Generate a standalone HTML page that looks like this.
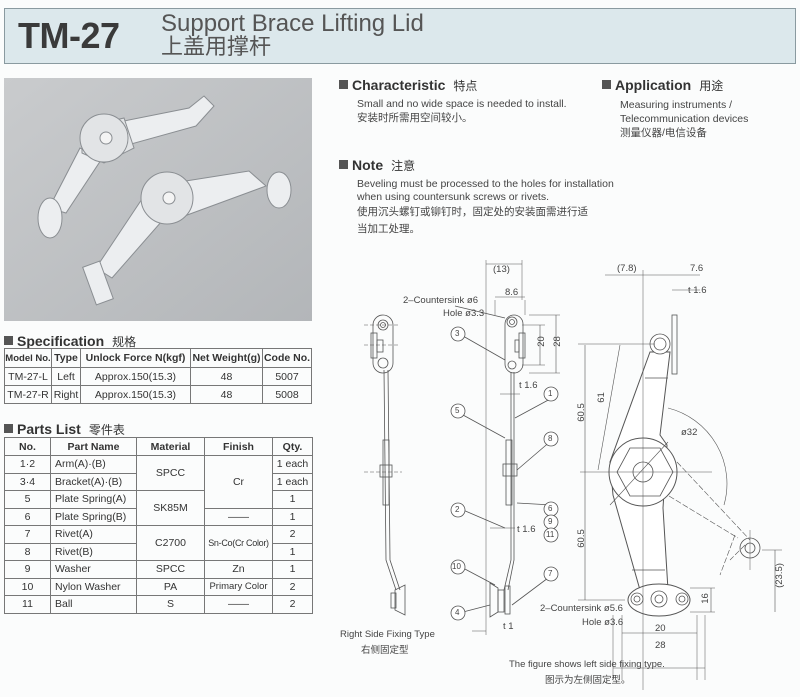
<!DOCTYPE html>
<html><head><meta charset="utf-8">
<style>
body{margin:0;width:800px;height:697px;background:#fbfcfc;position:relative;overflow:hidden;font-family:"Liberation Sans","Noto Sans CJK SC",sans-serif;color:#333}
.a{position:absolute;white-space:nowrap}
.hdr{left:4px;top:8px;width:792px;height:56px;background:#dce8ec;border:1px solid #8a9aa0;box-sizing:border-box}
h2{margin:0;font-size:14px;font-weight:bold;color:#333}
.sq{display:inline-block;width:9px;height:9px;background:#555;margin-right:4px;vertical-align:1px}
.cn{font-weight:normal;font-size:12px;margin-left:8px}
.t{font-size:10.5px;line-height:14px;color:#444}
table{position:absolute;border-collapse:collapse;font-size:10.5px;color:#333}
td{border:1px solid #777;text-align:center;padding:0;white-space:nowrap}
.l{text-align:left;padding-left:4px}
th{border:1px solid #777;font-weight:bold;padding:0}
</style></head><body>
<div class="a hdr"></div>
<div class="a" style="left:18px;top:15px;font-size:36px;font-weight:bold;color:#3a3a3a;letter-spacing:-0.5px">TM-27</div>
<div class="a" style="left:161px;top:12px;font-size:24px;color:#555;line-height:24px">Support Brace Lifting Lid</div>
<div class="a" style="left:161px;top:35px;font-size:22px;color:#555;line-height:24px">上盖用撑杆</div>

<svg class="a" style="left:4px;top:78px" width="308" height="243">
<defs><linearGradient id="g" x1="0" y1="0" x2="1" y2="1"><stop offset="0" stop-color="#c9cbcd"/><stop offset="1" stop-color="#b3b6b9"/></linearGradient></defs>
<rect width="308" height="243" fill="url(#g)"/>
<g fill="#eceef0" stroke="#8a8e92" stroke-width="1">
<path d="M85 50 L185 30 L200 18 L210 28 L192 48 L120 68 Z"/>
<path d="M76 70 L97 82 L62 135 L45 130 Z"/>
<ellipse cx="46" cy="140" rx="12" ry="20"/>
<path d="M78 50 L120 40 L130 70 L100 85 L78 75 Z" fill="#e2e4e6"/>
<circle cx="100" cy="60" r="24" fill="#e2e4e6"/>
<circle cx="102" cy="60" r="6" fill="#f4f4f4"/>
<path d="M150 108 L245 93 L262 108 L175 140 Z"/>
<ellipse cx="275" cy="112" rx="12" ry="18"/>
<path d="M140 118 L165 135 L108 200 L92 190 Z"/>
<circle cx="163" cy="120" r="26" fill="#e2e4e6"/>
<circle cx="165" cy="120" r="6" fill="#f4f4f4"/>
<rect x="85" y="185" width="18" height="40" transform="rotate(-20 94 205)"/>
</g>
</svg>

<div class="a" style="left:4px;top:333px"><h2><span class="sq"></span>Specification<span class="cn">规格</span></h2></div>
<table style="left:4px;top:348px;width:308px">
<tr style="height:19px"><th style="width:46px;font-size:9.5px">Model No.</th><th style="width:28px">Type</th><th style="width:109px">Unlock Force N(kgf)</th><th style="width:71px">Net Weight(g)</th><th>Code No.</th></tr>
<tr style="height:18px"><td>TM-27-L</td><td>Left</td><td>Approx.150(15.3)</td><td>48</td><td>5007</td></tr>
<tr style="height:18px"><td>TM-27-R</td><td>Right</td><td>Approx.150(15.3)</td><td>48</td><td>5008</td></tr>
</table>

<div class="a" style="left:4px;top:421px"><h2><span class="sq"></span>Parts List<span class="cn">零件表</span></h2></div>
<table style="left:4px;top:437px;width:309px;table-layout:fixed">
<tr style="height:18px"><th style="width:45px">No.</th><th style="width:85px">Part Name</th><th style="width:67px">Material</th><th style="width:67px">Finish</th><th>Qty.</th></tr>
<tr style="height:17.5px"><td>1·2</td><td class="l">Arm(A)·(B)</td><td rowspan="2">SPCC</td><td rowspan="3">Cr</td><td>1 each</td></tr>
<tr style="height:17.5px"><td>3·4</td><td class="l">Bracket(A)·(B)</td><td>1 each</td></tr>
<tr style="height:17.5px"><td>5</td><td class="l">Plate Spring(A)</td><td rowspan="2">SK85M</td><td>1</td></tr>
<tr style="height:17.5px"><td>6</td><td class="l">Plate Spring(B)</td><td>——</td><td>1</td></tr>
<tr style="height:17.5px"><td>7</td><td class="l">Rivet(A)</td><td rowspan="2">C2700</td><td rowspan="2" style="font-size:9px;letter-spacing:-0.3px">Sn-Co(Cr Color)</td><td>2</td></tr>
<tr style="height:17.5px"><td>8</td><td class="l">Rivet(B)</td><td>1</td></tr>
<tr style="height:17.5px"><td>9</td><td class="l">Washer</td><td>SPCC</td><td>Zn</td><td>1</td></tr>
<tr style="height:17.5px"><td>10</td><td class="l">Nylon Washer</td><td>PA</td><td style="font-size:9.5px">Primary Color</td><td>2</td></tr>
<tr style="height:17.5px"><td>11</td><td class="l">Ball</td><td>S</td><td>——</td><td>2</td></tr>
</table>

<div class="a" style="left:339px;top:77px"><h2><span class="sq"></span>Characteristic<span class="cn">特点</span></h2></div>
<div class="a t" style="left:357px;top:97px">Small and no wide space is needed to install.<br>安装时所需用空间较小。</div>
<div class="a" style="left:602px;top:77px"><h2><span class="sq"></span>Application<span class="cn">用途</span></h2></div>
<div class="a t" style="left:620px;top:98px">Measuring instruments /<br>Telecommunication devices<br>测量仪器/电信设备</div>
<div class="a" style="left:339px;top:157px"><h2><span class="sq"></span>Note<span class="cn">注意</span></h2></div>
<div class="a t" style="left:357px;top:178px;line-height:13px">Beveling must be processed to the holes for installation<br>when using countersunk screws or rivets.<br><span style="line-height:17px">使用沉头螺钉或铆钉时，固定处的安装面需进行适<br>当加工处理。</span></div>

<svg class="a" style="left:0;top:0" width="800" height="697" font-family="Liberation Sans, sans-serif" font-size="9" fill="none" stroke="#555" stroke-width="0.8">
<!-- right side view -->
<rect x="373" y="315" width="20" height="58" rx="10"/>
<circle cx="383" cy="325" r="5"/><circle cx="383" cy="325" r="2.5"/>
<circle cx="383" cy="363" r="5"/>
<rect x="371" y="333" width="6" height="25"/><rect x="377" y="340" width="6" height="12"/>
<path d="M384 370 L386 560 L396 590 M388 370 L390 560 L400 590"/>
<rect x="383" y="440" width="6" height="65"/><rect x="380" y="465" width="12" height="12"/>
<path d="M395 590 L405 585 L405 615 L395 610 Z"/><rect x="391" y="593" width="5" height="15"/>
<path d="M364 345 H400 M364 472 H402 M364 325 H400" stroke-dasharray="4 2" stroke-width="0.5"/>
<!-- middle view -->
<rect x="505" y="315" width="18" height="58" rx="9"/>
<circle cx="512" cy="322" r="5"/><circle cx="512" cy="322" r="2.5"/>
<circle cx="512" cy="365" r="4"/>
<rect x="519" y="333" width="6" height="25"/><rect x="515" y="340" width="4" height="12"/>
<path d="M511 372 L511 560 L504 590 M514 372 L514 560 L508 590"/>
<rect x="506" y="440" width="6" height="65"/><rect x="503" y="464" width="14" height="12"/>
<path d="M490 583 L498 588 L498 612 L490 617 Z"/><rect x="498" y="590" width="6" height="22"/><rect x="505" y="586" width="5" height="28"/>
<path d="M486 260 V635 M522 260 V300 M495 300 V315 M525 300 V315 M529 315 H560 M529 373 H560 M522 325 H545 M522 365 H545" stroke-width="0.5"/>
<path d="M486 264 H522 M495 297 H525 M540 325 V365 M556 315 V373 M500 394 H520 M490 528 H515 M472 631 H486" stroke-width="0.6"/>
<path d="M463 336 L505 360 M463 415 L505 438 M463 510 L505 528 M463 568 L495 585 M463 612 L490 605 M552 398 L515 418 M552 440 L517 470 M552 505 L517 503 M552 575 L512 605 M455 306 L505 318"/>
<g fill="#fff">
<circle cx="458" cy="334" r="7"/><circle cx="458" cy="411" r="7"/><circle cx="458" cy="510" r="7"/><circle cx="458" cy="567" r="7"/><circle cx="458" cy="613" r="7"/>
<circle cx="551" cy="394" r="7"/><circle cx="551" cy="439" r="7"/><circle cx="551" cy="509" r="7"/><circle cx="551" cy="522" r="7"/><circle cx="551" cy="535" r="7"/><circle cx="551" cy="574" r="7"/>
</g>
<!-- side view -->
<path d="M669 496 L738 538 M677 462 L750 540 M735 535 L720 575 M745 545 L730 560" stroke-width="0.6" stroke-dasharray="6 2"/>
<path d="M650 352 L610 462 L613 495 L640 590 L668 590 L663 508 L667 445 L660 435 L670 352 Z" fill="#fff" stroke-width="1"/>
<path d="M645 378 L668 378 M632 570 L665 570" />
<circle cx="660" cy="344" r="10" fill="#fff"/><circle cx="660" cy="344" r="6"/>
<rect x="672" y="315" width="5" height="59"/>
<circle cx="643" cy="472" r="34" fill="#fff" stroke-width="1"/>
<path d="M630 448 L660 448 L673 472 L660 496 L630 496 L617 472 Z"/>
<circle cx="643" cy="472" r="10"/>
<circle cx="750" cy="548" r="10"/><circle cx="750" cy="548" r="5"/>
<ellipse cx="659" cy="600" rx="31" ry="16" fill="#fff" stroke-width="1"/>
<circle cx="637" cy="599" r="6"/><circle cx="637" cy="599" r="3"/>
<circle cx="659" cy="599" r="8"/><circle cx="659" cy="599" r="4"/>
<circle cx="682" cy="599" r="6"/><circle cx="682" cy="599" r="3"/>
<path d="M643 270 V690 M580 472 H712 M578 344 H655 M578 600 H625 M690 588 H715 M690 612 H715 M750 530 V570 M762 550 H782 M622 615 V680 M697 615 V680 M613 615 V680 M705 615 V680" stroke-width="0.5"/>
<path d="M585 345 V600 M711 588 V612 M775 550 V612 M613 668 H705 M622 633 H697 M605 275 H700 M672 290 H700 M620 345 L598 470 M668 408 A78 78 0 0 1 724 505 M610 505 L668 442" stroke-width="0.6"/>
</svg>

<div class="a" style="left:0;top:0;font-size:9.5px;color:#444">
<span class="a" style="left:493px;top:264px">(13)</span>
<span class="a" style="left:505px;top:287px">8.6</span>
<span class="a" style="left:403px;top:295px">2–Countersink ø6</span>
<span class="a" style="left:443px;top:308px">Hole ø3.3</span>
<span class="a" style="left:536px;top:336px;transform:rotate(-90deg)">20</span>
<span class="a" style="left:552px;top:336px;transform:rotate(-90deg)">28</span>
<span class="a" style="left:519px;top:380px">t 1.6</span>
<span class="a" style="left:517px;top:524px">t 1.6</span>
<span class="a" style="left:503px;top:621px">t 1</span>
<span class="a" style="left:617px;top:263px">(7.8)</span>
<span class="a" style="left:690px;top:263px">7.6</span>
<span class="a" style="left:688px;top:285px">t 1.6</span>
<span class="a" style="left:596px;top:392px;transform:rotate(-90deg)">61</span>
<span class="a" style="left:572px;top:407px;transform:rotate(-90deg)">60.5</span>
<span class="a" style="left:572px;top:533px;transform:rotate(-90deg)">60.5</span>
<span class="a" style="left:681px;top:427px">ø32</span>
<span class="a" style="left:767px;top:570px;transform:rotate(-90deg)">(23.5)</span>
<span class="a" style="left:700px;top:593px;transform:rotate(-90deg)">16</span>
<span class="a" style="left:540px;top:603px">2–Countersink ø5.6</span>
<span class="a" style="left:582px;top:617px">Hole ø3.6</span>
<span class="a" style="left:655px;top:623px">20</span>
<span class="a" style="left:655px;top:640px">28</span>
<span class="a" style="left:340px;top:629px">Right Side Fixing Type</span>
<span class="a" style="left:361px;top:642px">右侧固定型</span>
<span class="a" style="left:509px;top:659px">The figure shows left side fixing type.</span>
<span class="a" style="left:545px;top:672px">图示为左侧固定型。</span>
<span class="a" style="left:455px;top:329px;font-size:8px">3</span>
<span class="a" style="left:455px;top:406px;font-size:8px">5</span>
<span class="a" style="left:455px;top:505px;font-size:8px">2</span>
<span class="a" style="left:452px;top:562px;font-size:8px">10</span>
<span class="a" style="left:455px;top:608px;font-size:8px">4</span>
<span class="a" style="left:548px;top:389px;font-size:8px">1</span>
<span class="a" style="left:548px;top:434px;font-size:8px">8</span>
<span class="a" style="left:548px;top:504px;font-size:8px">6</span>
<span class="a" style="left:548px;top:517px;font-size:8px">9</span>
<span class="a" style="left:546px;top:530px;font-size:8px">11</span>
<span class="a" style="left:548px;top:569px;font-size:8px">7</span>
</div>
</body></html>
